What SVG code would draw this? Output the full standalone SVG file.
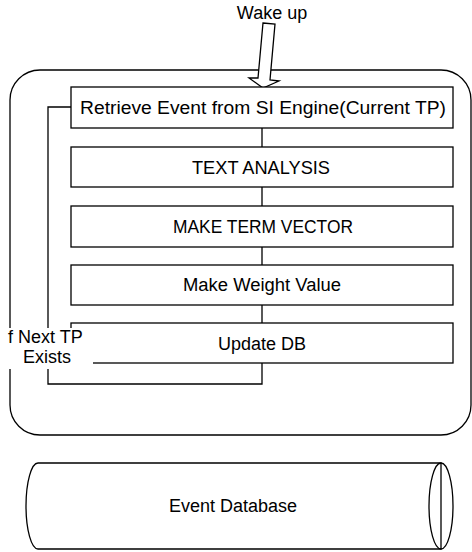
<svg xmlns="http://www.w3.org/2000/svg" width="472" height="552" viewBox="0 0 472 552">
<style>
.ln{fill:none;stroke:#000;stroke-width:1.3}
.bx{fill:#fff;stroke:#000;stroke-width:1.3}
.t{font-family:"Liberation Sans",Arial,sans-serif;font-size:18px;fill:#000}
.c{text-anchor:middle}
</style>
<rect width="472" height="552" fill="#fff"/>
<g id="container">
<rect class="ln" x="10" y="70" width="461" height="365" rx="30" ry="30"/>
</g>
<g id="connectors">
<path class="ln" d="M262,128 V147 M262,187 V206 M262,247 V265 M262,305 V323"/>
<path class="ln" d="M71,107 H48 V384 H262 V363"/>
</g>
<g id="wakeup">
<text class="t c" x="272" y="19">Wake up</text>
<path class="bx" d="M263,23 L275,24 L270,80 L279,81 L263,88 L249,78 L258,78 Z"/>
</g>
<g id="n1">
<rect class="bx" x="71" y="87" width="382" height="41"/>
<text class="t c" x="263" y="114" textLength="366" lengthAdjust="spacingAndGlyphs">Retrieve Event from SI Engine(Current TP)</text>
</g>
<g id="n2">
<rect class="bx" x="71" y="147" width="382" height="40"/>
<text class="t c" x="261" y="173.5" textLength="138" lengthAdjust="spacingAndGlyphs">TEXT ANALYSIS</text>
</g>
<g id="n3">
<rect class="bx" x="71" y="206" width="382" height="41"/>
<text class="t c" x="263" y="233" textLength="180" lengthAdjust="spacingAndGlyphs">MAKE TERM VECTOR</text>
</g>
<g id="n4">
<rect class="bx" x="71" y="265" width="382" height="40"/>
<text class="t c" x="262" y="291" textLength="158" lengthAdjust="spacingAndGlyphs">Make Weight Value</text>
</g>
<g id="n5">
<rect class="bx" x="71" y="323" width="382" height="40"/>
<text class="t c" x="262" y="349.5">Update DB</text>
</g>
<g id="loop-label">
<rect x="4" y="328" width="89" height="41" fill="#fff"/>
<text class="t" x="8" y="343">f Next TP</text>
<text class="t" x="23" y="363">Exists</text>
</g>
<g id="db">
<path class="bx" d="M38,463 H441 V549 H38 A12 43 0 0 1 38,463 Z"/>
<ellipse class="ln" cx="441" cy="506" rx="12" ry="43"/>
<text class="t c" x="233" y="512">Event Database</text>
</g>
</svg>
